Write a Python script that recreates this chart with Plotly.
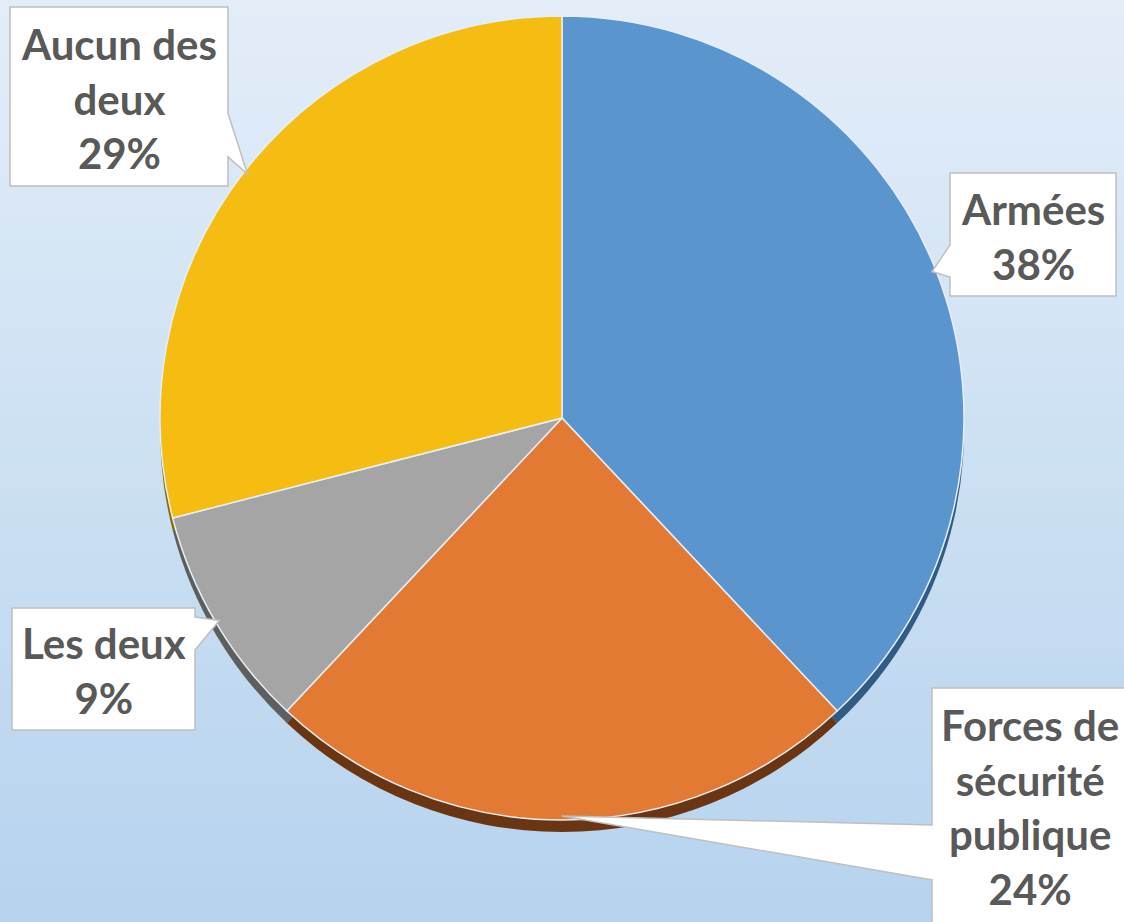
import math
import plotly.graph_objects as go

# ---- data ----
categories = ["Armées", "Forces de sécurité publique", "Les deux", "Aucun des deux"]
label_lines = [["Armées"], ["Forces de", "sécurité", "publique"], ["Les deux"], ["Aucun des", "deux"]]
values = [38, 24, 9, 29]
colors = ["#5a96cd", "#e27a33", "#a5a5a5", "#f5bd12"]
shadow_colors = ["#2f5b85", "#6a3512", "#5e5e5e", "#8a6a00"]

W, H = 1124, 922
CX, CY, R = 562, 418, 402
SHADOW = 12


def px(x):
    return x / W


def py(y):
    return 1 - y / H


fig = go.Figure()

# background gradient strips
top = (227, 237, 248)
bot = (182, 211, 238)
n = 47
for i in range(n):
    t = i / (n - 1)
    c = tuple(round(top[k] + (bot[k] - top[k]) * t) for k in range(3))
    fig.add_shape(type="rect", xref="paper", yref="paper",
                  x0=0, x1=1, y0=py((i + 1) * H / n + 1), y1=py(i * H / n),
                  fillcolor="rgb(%d,%d,%d)" % c, line_width=0, layer="below")

# shadow pie (3D edge)
fig.add_trace(go.Pie(
    labels=categories, values=values, sort=False, direction="clockwise",
    marker=dict(colors=shadow_colors, line=dict(color="rgba(0,0,0,0)", width=0)),
    textinfo="none", hoverinfo="skip", showlegend=False,
    domain=dict(x=[px(CX - R), px(CX + R)], y=[py(CY + R + SHADOW), py(CY - R + SHADOW)]),
))

# main pie
fig.add_trace(go.Pie(
    labels=categories, values=values, sort=False, direction="clockwise",
    marker=dict(colors=colors, line=dict(color="#e6eef8", width=1.5)),
    textinfo="none", hoverinfo="label+percent", showlegend=False,
    domain=dict(x=[px(CX - R), px(CX + R)], y=[py(CY + R), py(CY - R)]),
))

# slice mid-point tips on the pie edge
total = sum(values)
tips = []
cum = 0
for v in values:
    mid = (cum + v / 2) / total * 2 * math.pi
    cum += v
    tips.append((CX + 0.99 * R * math.sin(mid), CY - 0.99 * R * math.cos(mid)))

# callout boxes (layout): box rect, side with pointer, pointer base span, text centre
boxes = [
    dict(x0=950, y0=173, x1=1116, y1=296, side="left", b0=245, b1=277, tx=1033, ty=236),
    dict(x0=932, y0=688, x1=1135, y1=935, side="left", b0=825, b1=880, tx=1030, ty=807),
    dict(x0=12, y0=608, x1=195, y1=730, side="right", b0=617, b1=650, tx=104, ty=670),
    dict(x0=10, y0=7, x1=228, y1=186, side="right", b0=113, b1=157, tx=119, ty=98),
]

for i, b in enumerate(boxes):
    tx_, ty_ = tips[i]
    if b["side"] == "left":
        pts = [(b["x0"], b["y0"]), (b["x1"], b["y0"]), (b["x1"], b["y1"]), (b["x0"], b["y1"]),
               (b["x0"], b["b1"]), (tx_, ty_), (b["x0"], b["b0"])]
    else:
        pts = [(b["x0"], b["y0"]), (b["x1"], b["y0"]), (b["x1"], b["b0"]), (tx_, ty_),
               (b["x1"], b["b1"]), (b["x1"], b["y1"]), (b["x0"], b["y1"])]
    path = "M " + " L ".join("%.4f,%.4f" % (px(x), py(y)) for x, y in pts) + " Z"
    fig.add_shape(type="path", xref="paper", yref="paper", path=path,
                  fillcolor="white", line=dict(color="#bfbfbf", width=1.5), layer="above")
    text = "<br>".join(label_lines[i] + ["%d%%" % values[i]])
    fig.add_annotation(xref="paper", yref="paper", x=px(b["tx"]), y=py(b["ty"]),
                       xanchor="center", yanchor="middle", showarrow=False, text=text,
                       font=dict(family="Lato", size=42, color="#595959", weight="bold"))

fig.update_layout(
    width=W, height=H, margin=dict(l=0, r=0, t=0, b=0),
    paper_bgcolor="#cfe0f3", plot_bgcolor="rgba(0,0,0,0)",
)

fig.write_html(
    "out.html",
    config={"displayModeBar": False},
    post_script="document.body.style.margin='0';document.body.style.overflow='hidden';",
)
